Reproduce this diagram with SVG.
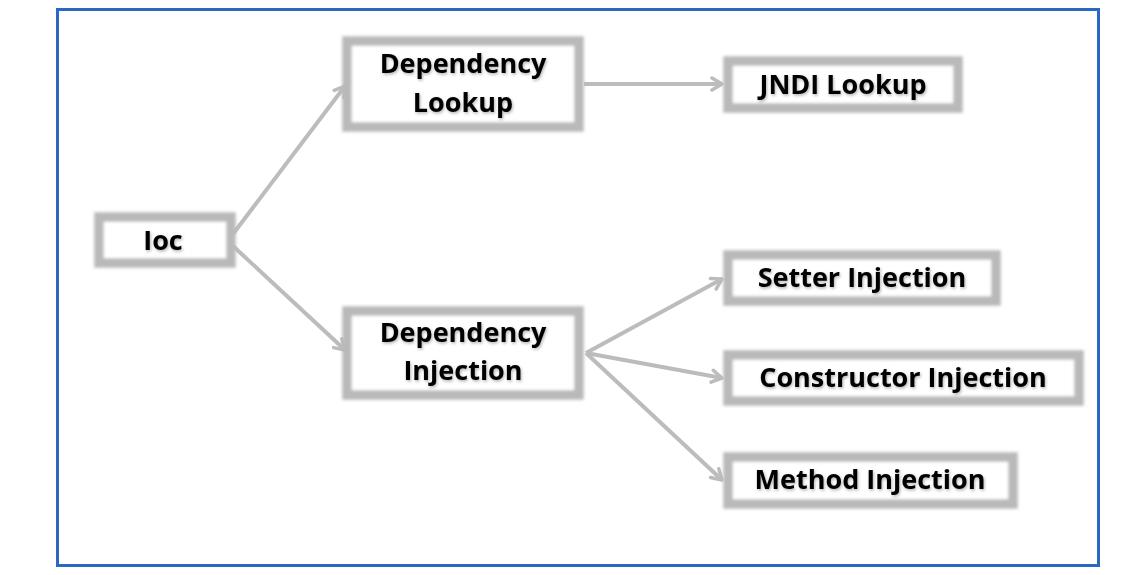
<svg xmlns="http://www.w3.org/2000/svg" width="1137" height="575" viewBox="0 0 1137 575">
<style>
.box{fill:#ffffff;stroke:#b9b9b9;stroke-width:9.5;filter:url(#soft)}
.lbl{font-family:"Open Sans","Noto Sans","Liberation Sans",sans-serif;font-weight:bold;font-size:27px;fill:#000;text-anchor:middle;filter:url(#tsh)}
.con{stroke:#bcbcbc;stroke-width:4;fill:none;marker-end:url(#arr)}
</style>
<defs>
<filter id="soft" x="-10%" y="-20%" width="120%" height="140%">
<feGaussianBlur in="SourceGraphic" stdDeviation="1.6"/>
</filter>
<filter id="tsh" x="-10%" y="-20%" width="120%" height="140%">
<feDropShadow dx="1" dy="1.5" stdDeviation="1.4" flood-color="#000" flood-opacity="0.3"/>
</filter>
<marker id="arr" markerWidth="16" markerHeight="16" refX="12" refY="8" orient="auto" markerUnits="userSpaceOnUse">
<path d="M2,2 L12,8 L2,14" fill="none" stroke="#bcbcbc" stroke-width="3.5" stroke-linecap="round" stroke-linejoin="round"/>
</marker>
</defs>
<rect x="57.5" y="9.5" width="1041" height="556" fill="#ffffff" stroke="#2b68c4" stroke-width="3"/>
<g id="connectors">
<line class="con" x1="233" y1="234" x2="345" y2="86"/>
<line class="con" x1="233" y1="246" x2="345" y2="350"/>
<line class="con" x1="584" y1="84" x2="722" y2="84"/>
<line class="con" x1="586" y1="353" x2="722" y2="279"/>
<line class="con" x1="586" y1="353" x2="722" y2="378"/>
<line class="con" x1="586" y1="353" x2="722" y2="480"/>
</g>
<g id="ioc">
<rect class="box" x="99" y="217" width="132" height="46"/>
<text class="lbl" x="163" y="250">Ioc</text>
</g>
<g id="dependency-lookup">
<rect class="box" x="347" y="41" width="232" height="86"/>
<text class="lbl" x="463" y="73">Dependency</text>
<text class="lbl" x="463" y="112">Lookup</text>
</g>
<g id="jndi-lookup">
<rect class="box" x="728" y="61" width="230" height="47"/>
<text class="lbl" x="843" y="94">JNDI Lookup</text>
</g>
<g id="dependency-injection">
<rect class="box" x="347" y="311" width="232" height="84"/>
<text class="lbl" x="463" y="342">Dependency</text>
<text class="lbl" x="463" y="380">Injection</text>
</g>
<g id="setter-injection">
<rect class="box" x="728" y="255" width="268" height="46"/>
<text class="lbl" x="862" y="287">Setter Injection</text>
</g>
<g id="constructor-injection">
<rect class="box" x="728" y="355" width="351" height="46"/>
<text class="lbl" x="903" y="387">Constructor Injection</text>
</g>
<g id="method-injection">
<rect class="box" x="728" y="457" width="285" height="47"/>
<text class="lbl" x="870" y="489">Method Injection</text>
</g>
</svg>
